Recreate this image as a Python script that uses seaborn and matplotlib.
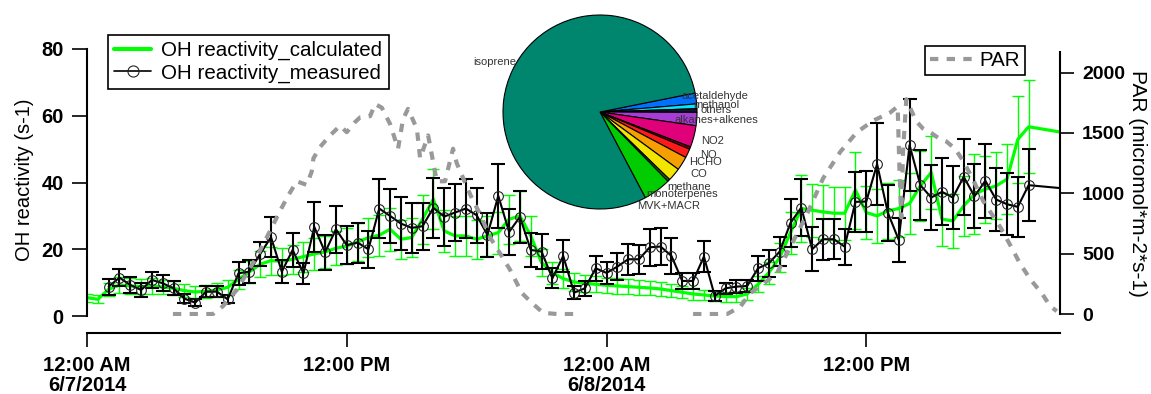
import numpy as np
import pandas as pd
import matplotlib
matplotlib.use("Agg")
import matplotlib.pyplot as plt
import seaborn as sns
from matplotlib.lines import Line2D
from matplotlib import font_manager as fm
from matplotlib.font_manager import FontProperties

# ---------------- data ----------------
# hours since 12:00 AM 6/7/2014
calc_hours = list(np.arange(0, 44, 0.5)) + [46.0]
calc_vals = [5.5, 5.0, 8.0, 9.3, 9.0, 8.8, 9.0, 8.7, 8.3, 7.6, 7.2, 7.4, 7.8, 8.6,
             11.0, 13.2, 15.5, 16.6, 16.4, 17.0, 17.8, 18.6, 19.2, 20.3, 21.0, 22.2,
             23.5, 24.2, 26.0, 23.0, 23.5, 29.0, 35.0, 25.5, 24.0, 24.0, 23.0, 24.0,
             25.0, 29.0, 30.0, 24.0, 16.0, 13.0, 11.2, 10.2, 9.8, 9.5, 9.2, 9.0,
             8.8, 8.6, 8.4, 8.1, 7.6, 7.1, 6.6, 6.3, 6.0, 5.8, 5.8, 6.6, 9.5, 13.0,
             17.5, 25.0, 32.2, 31.7, 31.2, 30.8, 30.8, 37.7, 31.0, 30.0, 31.5, 32.2,
             33.7, 39.0, 43.0, 29.0, 28.5, 33.0, 36.5, 38.0, 39.0, 41.0, 52.9, 56.7,
             54.0]
calc_err = [1.2, 1.2, 2.0, 2.4, 2.3, 2.2, 2.3, 2.2, 2.1, 1.9, 1.8, 1.9, 2.0, 2.2,
            2.8, 3.3, 3.9, 4.2, 4.1, 4.3, 4.5, 4.7, 4.8, 5.1, 5.3, 5.6, 5.9, 6.1,
            6.5, 5.8, 5.9, 7.3, 9.0, 6.4, 6.0, 6.0, 5.8, 6.0, 6.3, 7.3, 7.5, 6.0,
            4.0, 3.3, 2.8, 2.6, 2.5, 2.4, 2.3, 2.3, 2.2, 2.2, 2.1, 2.0, 1.9, 1.8,
            1.7, 1.6, 1.5, 1.5, 1.5, 1.7, 2.4, 3.3, 4.4, 6.3, 10.0, 8.0, 8.0, 8.0,
            8.0, 11.5, 8.0, 8.0, 8.5, 8.5, 9.0, 10.5, 11.0, 8.0, 8.0, 9.0, 12.0,
            10.0, 10.0, 10.5, 13.0, 14.0, 0.0]

meas_hours = list(np.arange(1, 44, 0.5)) + [46.0]
meas_vals = [8.8, 11.5, 9.3, 7.8, 10.8, 9.8, 8.3, 5.2, 4.0, 7.3, 7.3, 5.0, 12.8,
             13.3, 18.6, 23.6, 13.3, 19.8, 12.8, 26.7, 19.1, 26.0, 21.2, 22.0,
             20.0, 32.2, 30.0, 27.7, 26.4, 26.9, 32.4, 29.8, 31.0, 32.2, 30.2,
             24.3, 36.0, 25.2, 29.7, 19.8, 19.3, 11.3, 18.0, 7.0, 8.3, 14.3, 12.9,
             14.8, 17.0, 17.0, 20.6, 20.8, 18.0, 10.5, 10.5, 17.8, 6.0, 8.3, 8.8,
             9.0, 14.3, 15.8, 19.3, 27.9, 32.5, 20.0, 23.0, 23.0, 20.8, 34.2, 34.3,
             45.5, 30.9, 22.8, 51.2, 39.2, 35.5, 37.2, 35.5, 41.7, 35.9, 40.5,
             34.9, 33.5, 32.7, 39.2, 37.7]
meas_err = [2.4, 2.6, 2.4, 2.0, 2.5, 2.4, 2.1, 1.4, 1.1, 1.7, 1.7, 1.2, 3.4, 3.4,
            3.7, 6.0, 3.5, 5.0, 3.2, 7.5, 5.2, 7.0, 5.7, 6.0, 5.5, 8.7, 8.1, 8.0,
            7.4, 7.0, 9.0, 8.7, 8.5, 8.7, 8.2, 6.5, 9.5, 6.8, 7.8, 5.0, 5.2, 3.0,
            4.7, 1.9, 2.2, 3.7, 3.3, 4.0, 4.6, 4.4, 5.5, 5.6, 5.5, 2.4, 2.4, 4.6,
            1.5, 1.7, 2.0, 1.9, 3.7, 4.0, 4.3, 7.3, 8.5, 6.6, 6.2, 6.0, 5.4, 9.0,
            9.2, 12.3, 8.5, 6.6, 13.8, 10.5, 9.6, 10.0, 9.5, 11.3, 9.6, 11.0, 9.4,
            9.2, 9.0, 10.7, 0.0]

par_day1_hours = [3.97, 5.82, 6.28, 6.92, 7.84, 8.46, 8.92, 9.29, 9.69, 10.15, 10.38,
                  10.46, 10.77, 11.23, 11.69, 12.0, 12.38, 12.62, 13.08, 13.31, 13.62,
                  14.0, 14.37, 14.6, 14.83, 15.24, 15.39, 15.76, 16.16, 16.54, 16.91,
                  17.08, 17.38, 17.78, 18.16, 18.62, 19.09, 19.55, 20.09, 20.55, 21.07,
                  21.72, 22.78]
par_day1_vals = [0, 0, 65, 200, 473, 690, 855, 980, 1100, 1070, 1180, 1290, 1385, 1480,
                 1560, 1507, 1590, 1630, 1640, 1740, 1710, 1575, 1370, 1615, 1700, 1535,
                 1290, 1480, 1100, 1100, 1370, 1250, 1125, 960, 827, 635, 500, 365, 174,
                 92, 10, 0, 0]
par_day2_hours = [28.0, 29.57, 30.18, 30.64, 31.1, 31.87, 32.49, 33.26, 34.01, 34.8,
                  35.57, 36.32, 37.11, 37.45, 37.55, 37.62, 37.7, 37.85, 38.0, 38.3,
                  38.6, 39.0, 39.4, 39.7, 40.1, 40.5, 40.9, 41.4, 41.8, 42.2, 42.7,
                  43.1, 43.6, 44.1, 44.5, 44.8]
par_day2_vals = [0, 0, 60, 174, 230, 337, 555, 827, 1126, 1344, 1507, 1602, 1670, 1720,
                 1100, 800, 1350, 1780, 1720, 1600, 1540, 1500, 1450, 1430, 1370, 1262,
                 1126, 936, 827, 718, 555, 419, 283, 174, 65, 24]

pie_labels = ["acetaldehyde", "methanol", "others", "alkanes+alkenes", "NO2", "NO",
              "HCHO", "CO", "methane", "monoterpenes", "MVK+MACR", "isoprene"]
pie_pct = [1.8, 0.8, 0.6, 2.2, 3.6, 0.4, 1.5, 2.3, 2.2, 0.4, 4.6, 79.6]
pie_colors = ["#0070FF", "#00E8FF", "#151530", "#A83CD6", "#E0007A", "#8B0010",
              "#FF1A1A", "#F5A000", "#F2E600", "#1E6E1E", "#00CC00", "#00866E"]

xtick_pos = [0, 12, 24, 36]
xtick_labels = ["12:00 AM\n6/7/2014", "12:00 PM", "12:00 AM\n6/8/2014", "12:00 PM"]
left_ticks = [0, 20, 40, 60, 80]
right_ticks = [0, 500, 1000, 1500, 2000]

# ---------------- style ----------------
sns.set_theme(style="ticks", rc={"axes.edgecolor": "black", "xtick.color": "black",
                                 "ytick.color": "black", "text.color": "black",
                                 "axes.labelcolor": "black"})
plt.rcParams["font.family"] = ["Liberation Sans", "DejaVu Sans"]

names = {f.name for f in fm.fontManager.ttflist}
if "Liberation Sans Narrow" in names:
    xfont = FontProperties(family="Liberation Sans Narrow", weight="bold", size=16)
else:
    xfont = FontProperties(family="Liberation Sans", weight="bold", size=14.5)

W, H = 1151, 394
fig = plt.figure(figsize=(W / 100, H / 100), dpi=100)
ax = fig.add_axes([87 / W, 1 - 316 / H, (1060 - 87) / W, (316 - 49) / H])

GREEN = "#00FF00"
df_calc = pd.DataFrame({"h": calc_hours, "v": calc_vals, "e": calc_err})
df_meas = pd.DataFrame({"h": meas_hours, "v": meas_vals, "e": meas_err})

ax.errorbar(df_calc["h"], df_calc["v"], yerr=df_calc["e"], fmt="none", ecolor=GREEN,
            elinewidth=1.0, capsize=4.5, capthick=1.0, zorder=2)
sns.lineplot(data=df_calc, x="h", y="v", color=GREEN, lw=2.3, ax=ax, legend=False,
             zorder=2.5)
ax.errorbar(df_meas["h"], df_meas["v"], yerr=df_meas["e"], fmt="none", ecolor="black",
            elinewidth=1.5, capsize=4.7, capthick=1.5, zorder=3)
sns.lineplot(data=df_meas, x="h", y="v", color="black", lw=1.5, ax=ax, legend=False,
             marker="o", markersize=7, markerfacecolor="none",
             markeredgecolor="#222222", markeredgewidth=0.8, zorder=4)

ax.set_xlim(0, 44.95)
ax.set_ylim(0, 80)
ax.set_xlabel("")
ax.set_ylabel("OH reactivity (s-1)", fontsize=14.5)
ax.yaxis.set_label_coords(-0.0647, 0.51)
ax.yaxis.label.set_va("center")

for s in ["top", "right"]:
    ax.spines[s].set_visible(False)
ax.spines["bottom"].set_position(("outward", 12))
for s in ["left", "bottom"]:
    ax.spines[s].set_linewidth(1.5)

ax.set_yticks(left_ticks)
ax.tick_params(axis="y", direction="out", length=10.8, width=1.2, labelsize=14.5, pad=6)
for t in ax.get_yticklabels():
    t.set_fontweight("bold")
ax.set_xticks(xtick_pos, xtick_labels)
ax.tick_params(axis="x", direction="out", length=10, width=1.2, pad=7)
for t in ax.get_xticklabels():
    t.set_fontproperties(xfont)
    t.set_linespacing(1.05)

# PAR on right axis
ax2 = ax.twinx()
PARC = "#999999"
for hh, vv in [(par_day1_hours, par_day1_vals), (par_day2_hours, par_day2_vals)]:
    sns.lineplot(x=hh, y=vv, ax=ax2, color=PARC, lw=3, legend=False,
                 linestyle=(0, (2, 2)), sort=False)
ax2.set_ylim(-16.3, 2196)
ax2.set_xlim(0, 44.95)
for s in ["top", "left", "bottom"]:
    ax2.spines[s].set_visible(False)
ax2.spines["right"].set_linewidth(1.5)
ax2.spines["right"].set_bounds(0, 2170)
ax2.set_yticks(right_ticks)
ax2.tick_params(axis="y", direction="out", length=10, width=1.2, labelsize=14, pad=6)
for t in ax2.get_yticklabels():
    t.set_fontweight("bold")
ax2.set_ylabel("PAR (micromol*m-2*s-1)", rotation=270, fontsize=15)
ax2.yaxis.set_label_coords(1.080, 0.496)
ax2.yaxis.label.set_va("center")
ax2.yaxis.label.set_ha("center")

# legends
h1 = [Line2D([], [], color=GREEN, lw=3),
      Line2D([], [], color="black", lw=1.2, marker="o", markersize=8,
             markerfacecolor="none", markeredgecolor="#222222", markeredgewidth=0.8)]
leg1 = fig.legend(h1, ["OH reactivity_calculated", "OH reactivity_measured"],
                  loc="upper left", bbox_to_anchor=(108 / W, 1 - 35 / H),
                  frameon=True, fancybox=False, edgecolor="black", framealpha=1,
                  borderaxespad=0, fontsize=14.8, handlelength=1.8, handletextpad=0.5,
                  labelspacing=0.15, borderpad=0.3)
leg1.get_frame().set_linewidth(1.2)
h2 = [Line2D([], [], color=PARC, lw=3, linestyle=(0, (2, 2)))]
leg2 = fig.legend(h2, ["PAR"], loc="upper left", bbox_to_anchor=(925 / W, 1 - 46 / H),
                  frameon=True, fancybox=False, edgecolor="black", framealpha=1,
                  borderaxespad=0, fontsize=14.8, handlelength=2.1, handletextpad=0.3,
                  borderpad=0.25)
leg2.get_frame().set_linewidth(1.2)

# pie inset
R = 97
half = 1.25 * R
cx, cy = 600, 112
pax = fig.add_axes([(cx - half) / W, (H - cy - half) / H, 2 * half / W, 2 * half / H])
wedges, texts = pax.pie(pie_pct, colors=pie_colors, labels=pie_labels, startangle=11.3,
                        counterclock=False, labeldistance=1.2,
                        wedgeprops=dict(edgecolor="black", linewidth=0.8),
                        textprops=dict(fontsize=8, color="#333333"))
for t in texts:
    t.set_ha("center")
    t.set_va("center")
pax.set_aspect("equal")
pax.set_xlim(-1.25, 1.25)
pax.set_ylim(-1.25, 1.25)

fig.savefig("out.png", dpi=100)
